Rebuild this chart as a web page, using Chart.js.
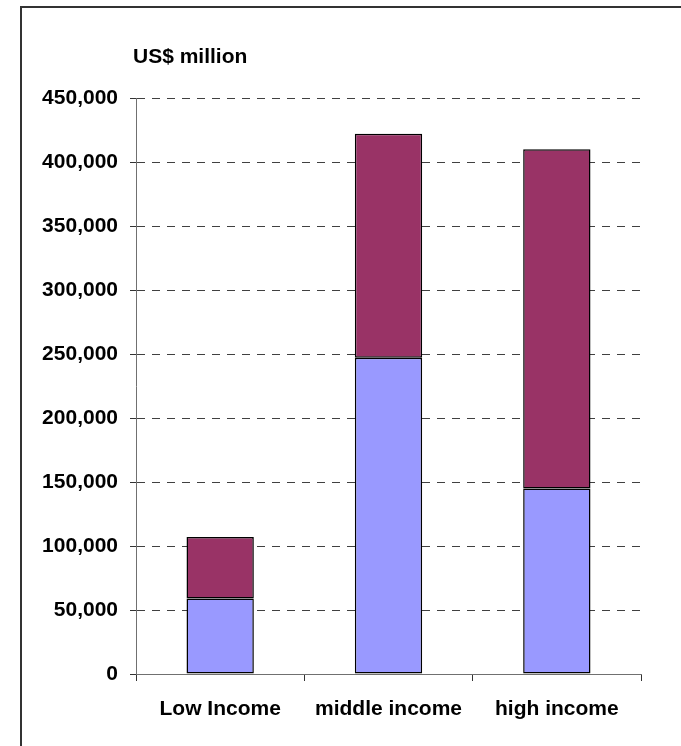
<!DOCTYPE html>
<html>
<head>
<meta charset="utf-8">
<script src="https://cdn.jsdelivr.net/npm/chart.js@4.4.0/dist/chart.umd.min.js"></script>
<style>
    html, body { margin: 0; padding: 0; background: #fff; }
    #wrap { width: 681px; height: 746px; position: relative; }
</style>
</head>
<body>
<div id="wrap"><canvas id="incomeChart" width="681" height="746"></canvas></div>
<script>
// 소득 그룹별 금액 (US$ million)
const categories = ['Low Income', 'middle income', 'high income'];
const lowerSeries = [59000, 247000, 145000];
const upperSeries = [48000, 175000, 265000];
const yTicks = [0, 50000, 100000, 150000, 200000, 250000, 300000, 350000, 400000, 450000];
const unitLabel = 'US$ million';

const FONT = 'Liberation Sans, Arial, sans-serif';

// 바깥 테두리 + 단위 텍스트
const framePlugin = {
    id: 'frame',
    beforeDraw(chart) {
        const ctx = chart.ctx;
        ctx.save();
        ctx.fillStyle = '#fff';
        ctx.fillRect(0, 0, chart.width, chart.height);
        ctx.strokeStyle = '#333';
        ctx.lineWidth = 2;
        ctx.beginPath();
        ctx.moveTo(21, chart.height);
        ctx.lineTo(21, 7);
        ctx.lineTo(chart.width, 7);
        ctx.stroke();
        ctx.restore();
    },
    afterDraw(chart) {
        const ctx = chart.ctx;
        const area = chart.chartArea;
        ctx.save();
        ctx.fillStyle = '#000';
        ctx.font = 'bold 21px ' + FONT;
        ctx.textAlign = 'left';
        ctx.textBaseline = 'middle';
        ctx.fillText(unitLabel, area.left - 3, area.top - 41);
        ctx.restore();
    }
};

const ctx = document.getElementById('incomeChart').getContext('2d');
new Chart(ctx, {
    type: 'bar',
    data: {
        labels: categories,
        datasets: [
            {
                data: lowerSeries,
                backgroundColor: '#9999FF',
                borderColor: '#000',
                borderWidth: 1.5,
                borderSkipped: false,
                barPercentage: 0.4,
                categoryPercentage: 1
            },
            {
                data: upperSeries,
                backgroundColor: '#993366',
                borderColor: '#000',
                borderWidth: 1.5,
                borderSkipped: false,
                barPercentage: 0.4,
                categoryPercentage: 1
            }
        ]
    },
    options: {
        responsive: false,
        animation: false,
        layout: { padding: { left: 21, top: 98, right: 40, bottom: 0 } },
        plugins: {
            legend: { display: false },
            tooltip: { enabled: false }
        },
        scales: {
            x: {
                stacked: true,
                offset: true,
                afterFit: axis => { axis.height = 72; },
                border: { display: true, color: '#707070', width: 1 },
                grid: {
                    offset: true,
                    drawOnChartArea: false,
                    drawTicks: true,
                    tickLength: 7,
                    tickColor: '#333'
                },
                ticks: {
                    color: '#000',
                    padding: 16,
                    font: { family: FONT, size: 21, weight: 'bold' }
                }
            },
            y: {
                stacked: true,
                min: 0,
                max: 450000,
                afterFit: axis => { axis.width = 115; },
                afterBuildTicks: axis => { axis.ticks = yTicks.map(v => ({ value: v })); },
                // v4에서는 격자선 점선이 border.dash 로 지정됨
                border: { display: true, color: '#707070', width: 1, dash: [8, 7] },
                grid: {
                    color: '#404040',
                    tickLength: 6,
                    tickColor: '#333',
                    tickBorderDash: []
                },
                ticks: {
                    color: '#000',
                    padding: 12,
                    font: { family: FONT, size: 21, weight: 'bold' },
                    callback: v => v.toLocaleString('en-US')
                }
            }
        }
    },
    plugins: [framePlugin]
});
</script>
</body>
</html>
